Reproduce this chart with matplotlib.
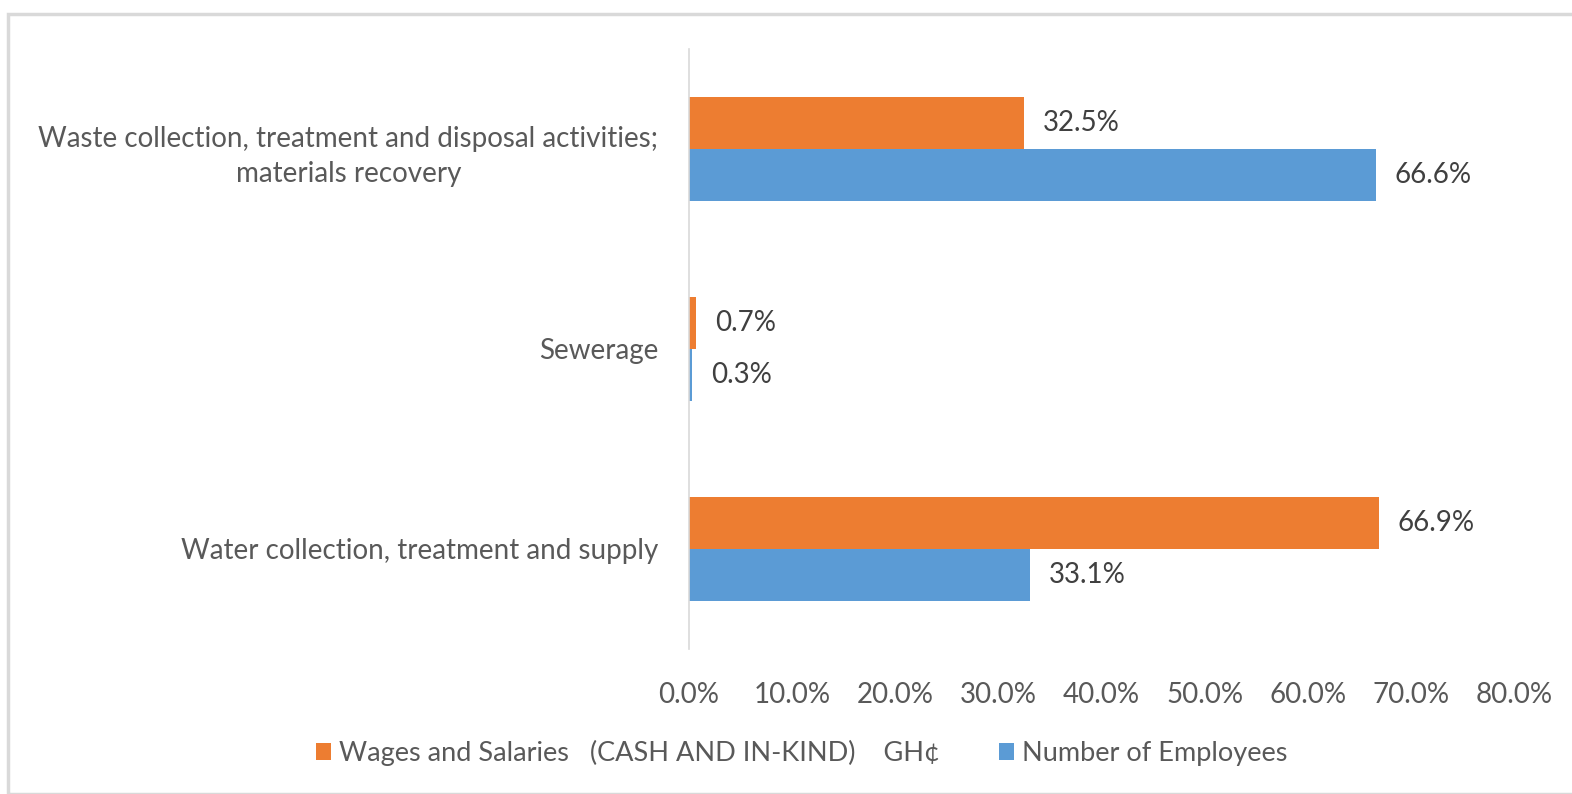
import numpy as np
import matplotlib.pyplot as plt
from matplotlib.patches import Rectangle

plt.rcParams['font.family'] = ['Lato', 'DejaVu Sans']

categories = ['Water collection, treatment and supply',
              'Sewerage',
              'Waste collection, treatment and disposal activities;\nmaterials recovery']
wages = [66.9, 0.7, 32.5]
employees = [33.1, 0.3, 66.6]
ticks = [0, 10, 20, 30, 40, 50, 60, 70, 80]

orange = '#ED7D31'
blue = '#5B9BD5'
grey = '#595959'
fs = 20

fig = plt.figure(figsize=(15.72, 7.94), dpi=100)
fig.patches.append(Rectangle((8 / 1572, 0), 1.0, 1 - 14 / 794, transform=fig.transFigure,
                             fill=False, edgecolor='#d9d9d9', linewidth=2.5))
ax = fig.add_axes([689 / 1572, 1 - 649 / 794, (1514 - 689) / 1572, 600 / 794])

y = np.arange(len(categories))
h = 0.26
b1 = ax.barh(y + h / 2, wages, height=h, color=orange, label='Wages and Salaries   (CASH AND IN-KIND)    GH¢')
b2 = ax.barh(y - h / 2, employees, height=h, color=blue, label='Number of Employees')

for bars, vals in ((b1, wages), (b2, employees)):
    for bar, v in zip(bars, vals):
        ax.annotate(f'{v:.1f}%', (v, bar.get_y() + bar.get_height() / 2),
                    xytext=(19, 0), textcoords='offset pixels',
                    va='center', ha='left', fontsize=fs, color='#404040')

ax.set_xlim(0, 80)
ax.set_ylim(-0.5, 2.5)
ax.set_xticks(ticks)
ax.set_xticklabels([f'{t:.1f}%' for t in ticks])
ax.set_yticks(y)
ax.set_yticklabels(categories)
for lab in ax.get_yticklabels():
    lab.set_horizontalalignment('right')
    lab.set_multialignment('center')
    lab.set_linespacing(1.45)
ax.tick_params(axis='both', length=0, labelsize=fs, labelcolor=grey)
ax.tick_params(axis='x', pad=24)
ax.tick_params(axis='y', pad=22)
for s in ['top', 'right', 'bottom']:
    ax.spines[s].set_visible(False)
ax.spines['left'].set_color('#d9d9d9')
ax.spines['left'].set_linewidth(1.2)

fig.legend(loc='center', bbox_to_anchor=(802 / 1572, 1 - 753 / 794), ncol=2,
           frameon=False, fontsize=19.5, labelcolor=grey, handlelength=0.55, handleheight=0.55,
           handletextpad=0.3, columnspacing=2.2)

fig.savefig('out.png', dpi=100)
